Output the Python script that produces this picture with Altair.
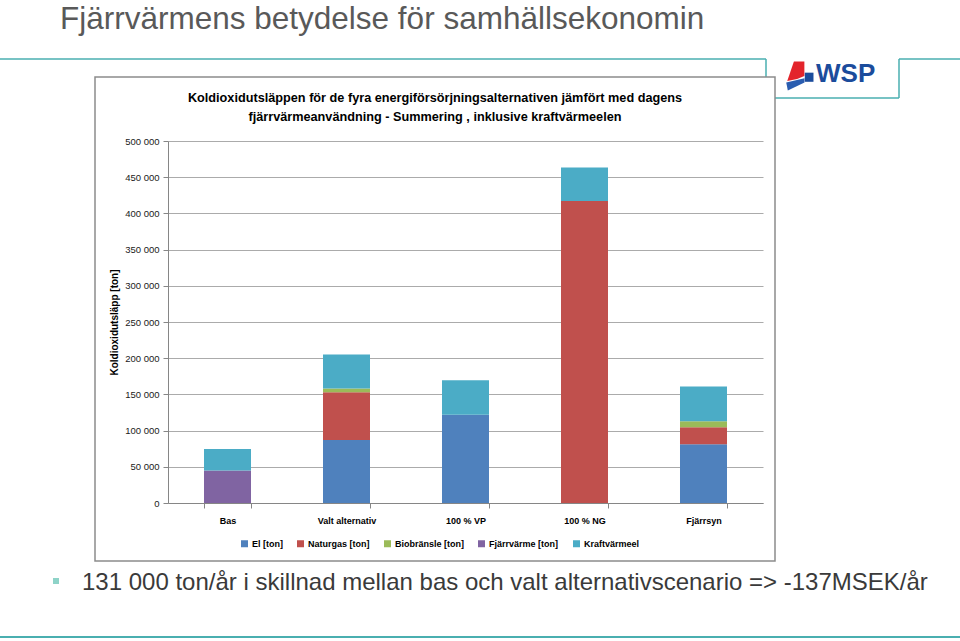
import altair as alt
import pandas as pd

categories = ["Bas", "Valt alternativ", "100 % VP", "100 % NG", "Fjärrsyn"]
series = ["El [ton]", "Naturgas [ton]", "Biobränsle [ton]", "Fjärrvärme [ton]", "Kraftvärmeel"]
el = [0, 87000, 122000, 0, 81000]
naturgas = [0, 66000, 0, 417000, 23500]
biobransle = [0, 5000, 0, 0, 8500]
fjarrvarme = [45000, 0, 0, 0, 0]
kraftvarmeel = [29500, 47000, 47500, 46500, 48000]
colors = ["#4F81BD", "#C0504D", "#9BBB59", "#8064A2", "#4BACC6"]
y_ticks = [0, 50000, 100000, 150000, 200000, 250000, 300000, 350000, 400000, 450000, 500000]

slide_title = "Fjärrvärmens betydelse för samhällsekonomin"
chart_title = ["Koldioxidutsläppen för de fyra energiförsörjningsalternativen jämfört med dagens",
               "fjärrvärmeanvändning - Summering , inklusive kraftvärmeelen"]
y_title = "Koldioxidutsläpp [ton]"
bullet_text = "131 000 ton/år i skillnad mellan bas och valt alternativscenario => -137MSEK/år"
logo_text = "WSP"

rows = []
for s_i, (name, vals) in enumerate(zip(series, [el, naturgas, biobransle, fjarrvarme, kraftvarmeel])):
    for c, v in zip(categories, vals):
        rows.append({"Kategori": c, "Serie": name, "Värde": v, "ordning": s_i})
df = pd.DataFrame(rows)

SANS = "Liberation Sans, Arial"

# plot origin in page pixels
OX, OY = 168, 141

bars = alt.Chart(df).mark_bar().encode(
    x=alt.X("Kategori:N", sort=categories,
            scale=alt.Scale(paddingInner=0.605, paddingOuter=0.3025),
            axis=alt.Axis(title=None, labelAngle=0, labelFont=SANS, labelFontWeight="bold",
                          labelFontSize=9, labelColor="#000000", labelPadding=8,
                          tickBand="extent", tickSize=5, tickColor="#868686",
                          domainColor="#868686", grid=False)),
    y=alt.Y("Värde:Q", stack="zero",
            scale=alt.Scale(domain=[0, 500000], nice=False),
            axis=alt.Axis(values=y_ticks, title=y_title, titleFont=SANS, titleFontSize=10,
                          titleFontWeight="bold", titleColor="#000000", titleX=-54,
                          titleBaseline="middle", titleAngle=270,
                          labelExpr="replace(format(datum.value, ','), ',', ' ')",
                          labelFont=SANS, labelFontSize=9.5, labelColor="#1A1A1A",
                          labelPadding=4, tickSize=5, tickColor="#868686",
                          domainColor="#868686", gridColor="#ABABAB", gridWidth=1)),
    color=alt.Color("Serie:N", sort=series,
                    scale=alt.Scale(domain=series, range=colors),
                    legend=alt.Legend(title=None, orient="none", direction="horizontal",
                                      legendX=72, legendY=398, padding=0,
                                      symbolType="square", symbolSize=49, symbolStrokeWidth=0,
                                      labelFont=SANS, labelFontSize=9, labelFontWeight="bold",
                                      labelColor="#000000", columnPadding=13, labelOffset=3)),
    order=alt.Order("ordning:Q", sort="ascending"),
)

one = pd.DataFrame({"d": [0]})

def rule(x1, y1, x2, y2, color, width=1.5):
    return alt.Chart(one).mark_rule(color=color, strokeWidth=width).encode(
        x=alt.value(x1 - OX), x2=alt.value(x2 - OX), y=alt.value(y1 - OY), y2=alt.value(y2 - OY))

def text(t, x, y, size, color, font=SANS, weight="normal", align="left", baseline="alphabetic"):
    return alt.Chart(one).mark_text(text=t, font=font, fontSize=size, fontWeight=weight,
                                    color=color, align=align, baseline=baseline).encode(
        x=alt.value(x - OX), y=alt.value(y - OY))

TEAL = "#4AAFB0"
decor = [
    rule(0, 59, 766, 59, TEAL),
    rule(766, 59, 766, 77, TEAL),
    rule(775, 98, 899, 98, TEAL),
    rule(899, 59, 899, 98, TEAL),
    rule(899, 59, 960, 59, TEAL),
    rule(0, 637, 960, 637, TEAL, 2),
    alt.Chart(one).mark_rect(fill="white", fillOpacity=0, stroke="#8C8C8C", strokeWidth=1.5).encode(
        x=alt.value(95 - OX), x2=alt.value(775 - OX), y=alt.value(77 - OY), y2=alt.value(561 - OY)),
    text(slide_title, 60, 29, 31.5, "#595959"),
    text(chart_title[0], 435, 102, 12.7, "#000000", weight="bold", align="center"),
    text(chart_title[1], 435, 121, 12.7, "#000000", weight="bold", align="center"),
    text(bullet_text, 82, 590, 24, "#3A3A3A"),
    alt.Chart(one).mark_square(color="#8ED3C8", size=36, opacity=1).encode(
        x=alt.value(56 - OX), y=alt.value(581 - OY)),
    text(logo_text, 816, 82, 26, "#1B4C9C", weight="bold"),
    alt.Chart(one).mark_point(shape="M -0.88 0.35 L -0.42 -1 L 0.3 -1 L 0.3 0.0 L -0.2 0.2 Z",
                              size=841, filled=True, color="#E3242B", opacity=1).encode(
        x=alt.value(800 - OX), y=alt.value(76 - OY)),
    alt.Chart(one).mark_point(shape="M 0.33 -0.23 L 0.93 -0.23 L 0.93 0.4 L 0.33 0.4 Z",
                              size=841, filled=True, color="#1B4C9C", opacity=1).encode(
        x=alt.value(800 - OX), y=alt.value(76 - OY)),
    alt.Chart(one).mark_point(shape="M -0.95 0.45 L 0.31 0.16 L 0.31 0.45 L -0.84 1 Z",
                              size=841, filled=True, color="#2A5DB0", opacity=1).encode(
        x=alt.value(800 - OX), y=alt.value(76 - OY)),
]

chart = alt.layer(*decor, bars).properties(
    width=595, height=362,
    autosize=alt.AutoSizeParams(type="none"),
    padding={"left": OX, "top": OY, "right": 960 - 763, "bottom": 641 - 503},
    background="white",
).configure_view(stroke=None)

chart.save("out.html", embed_options={"renderer": "svg", "actions": False})
